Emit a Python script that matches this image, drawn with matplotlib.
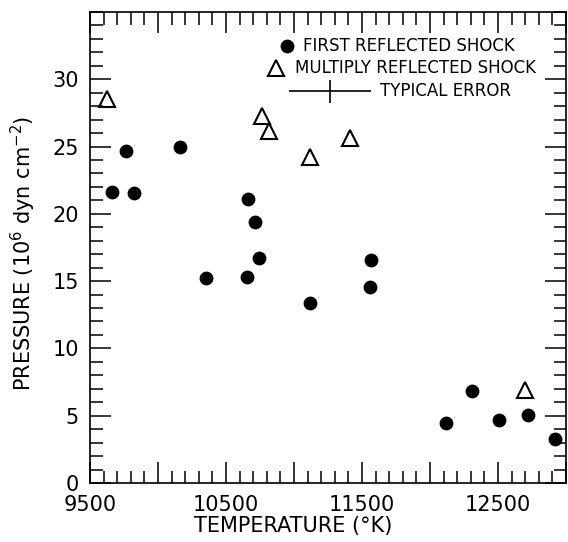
import matplotlib
matplotlib.use("Agg")
import matplotlib.pyplot as plt
from matplotlib.ticker import MultipleLocator, FixedLocator

# first reflected shock (filled circles)
first_T = [9662, 9765, 9824, 10162, 10353, 10654, 10662, 10713, 10743, 11118,
           11559, 11566, 12118, 12309, 12507, 12721, 12919]
first_P = [21.6, 24.7, 21.55, 25.0, 15.2, 15.3, 21.1, 19.4, 16.7, 13.4,
           14.6, 16.6, 4.45, 6.8, 4.7, 5.05, 3.3]

# multiply reflected shock (open triangles)
multi_T = [9625, 10765, 10816, 11118, 11412, 12699]
multi_P = [28.5, 27.3, 26.15, 24.2, 25.6, 6.9]

# typical error bar
err_T, err_P = 11265, 29.1
err_dT, err_dP = 300, 0.85

x_labels = {9500: "9500", 10500: "10500", 11500: "11500", 12500: "12500"}

plt.rcParams['font.family'] = ['DejaVu Sans']

fig = plt.figure(figsize=(5.68, 5.42), dpi=100)
ax = fig.add_axes([0.1585, 0.1089, 0.838, 0.869])

ax.scatter(first_T, first_P, s=80, c="black", marker="o", zorder=3)
ax.plot(multi_T, multi_P, linestyle="none", marker="^", markersize=11,
        markerfacecolor="none", markeredgecolor="black", markeredgewidth=1.5, zorder=3)
ax.errorbar([err_T], [err_P], xerr=[err_dT], yerr=[err_dP], fmt="none",
            ecolor="black", elinewidth=1.2, capsize=0)

# legend drawn by hand as in the original
ax.scatter([10949], [32.5], s=80, c="black", marker="o")
ax.text(11066, 32.5, "FIRST REFLECTED SHOCK", fontsize=12, va="center")
ax.plot([10868], [30.8], linestyle="none", marker="^", markersize=11,
        markerfacecolor="none", markeredgecolor="black", markeredgewidth=1.5)
ax.text(11007, 30.8, "MULTIPLY REFLECTED SHOCK", fontsize=12, va="center")
ax.text(11632, err_P, "TYPICAL ERROR", fontsize=12, va="center")

ax.set_xlim(9500, 13000)
ax.set_ylim(0, 35)

ax.xaxis.set_minor_locator(MultipleLocator(100))
ax.set_xticks(list(range(9500, 13001, 500)))
ax.set_xticklabels([x_labels.get(t, "") for t in range(9500, 13001, 500)])
ax.yaxis.set_major_locator(FixedLocator([0, 5, 10, 15, 20, 25, 30]))
ax.yaxis.set_minor_locator(MultipleLocator(1))

ax.tick_params(which="both", direction="in", top=True, right=True, width=1.1)
ax.tick_params(which="major", length=15, labelsize=15)
ax.tick_params(axis="x", which="major", pad=9)
ax.tick_params(axis="y", which="major", pad=8)
ax.tick_params(which="minor", length=9)
for sp in ax.spines.values():
    sp.set_linewidth(1.2)

ax.set_xlabel("TEMPERATURE (°K)", fontsize=15)
ax.xaxis.set_label_coords(0.426, -0.07)
ax.set_ylabel("PRESSURE (10$^6$ dyn cm$^{-2}$)", fontsize=15)
ax.yaxis.set_label_coords(-0.11, 0.488)

fig.savefig("out.png", dpi=100)
